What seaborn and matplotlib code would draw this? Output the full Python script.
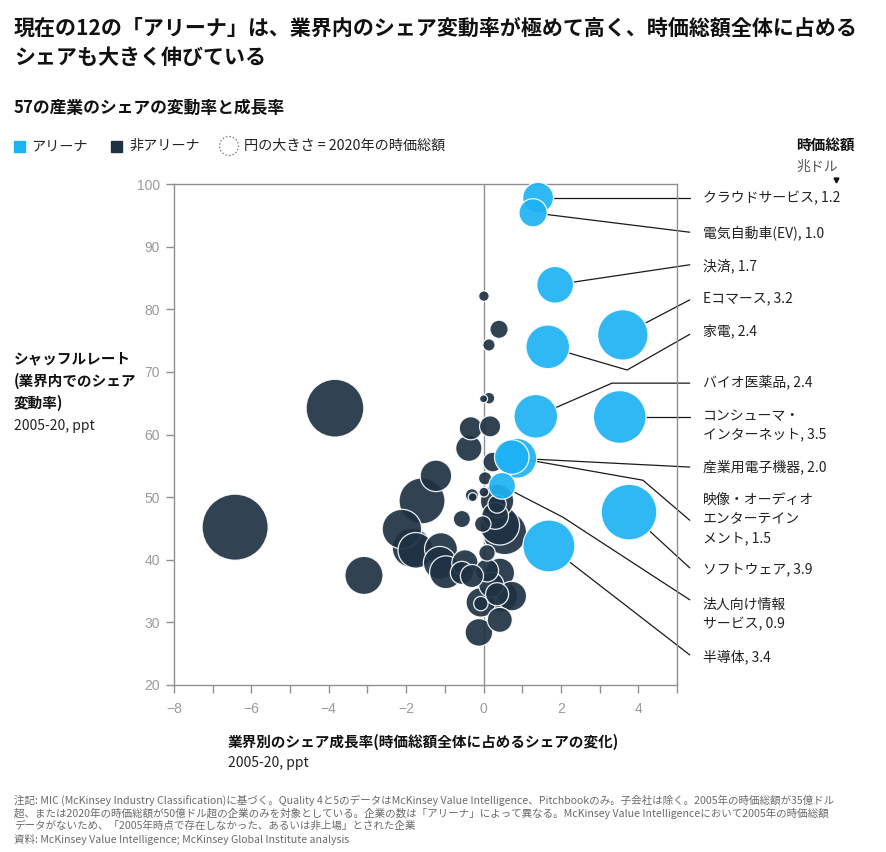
import numpy as np
import pandas as pd
import matplotlib
matplotlib.use("Agg")
import matplotlib.pyplot as plt
import matplotlib.patches as mpatches
from matplotlib.lines import Line2D
import seaborn as sns

# ---------------- data ----------------
arena_names = ["クラウドサービス, 1.2", "電気自動車(EV), 1.0", "決済, 1.7", "Eコマース, 3.2",
               "家電, 2.4", "バイオ医薬品, 2.4", "コンシューマ・\nインターネット, 3.5",
               "産業用電子機器, 2.0", "映像・オーディオ\nエンターテイン\nメント, 1.5",
               "ソフトウェア, 3.9", "法人向け情報\nサービス, 0.9", "半導体, 3.4"]
arena_x = [1.41, 1.28, 1.85, 3.60, 1.66, 1.35, 3.52, 0.86, 0.73, 3.76, 0.48, 1.69]
arena_y = [97.8, 95.4, 83.9, 75.9, 74.0, 62.9, 62.8, 56.2, 56.4, 47.6, 51.8, 42.2]
arena_cap = [1.2, 1.0, 1.7, 3.2, 2.4, 2.4, 3.5, 2.0, 1.5, 3.9, 0.9, 3.4]

other_x = [0.01, 0.40, 0.14, 0.14, 0.00, -3.84, -6.42, -0.33, 0.17, -0.38, 0.24, -1.23,
           -1.59, 0.04, -0.30, -0.28, 0.01, 0.35, 0.35, -0.56, -0.02, 0.42, 0.55, -2.11,
           -1.85, -1.75, -1.10, -1.13, -0.97, -0.48, -0.56, -0.30, -3.09, 0.09, 0.09, 0.42,
           0.35, 0.47, 0.73, -0.07, -0.07, 0.42, -0.12, 0.30, 0.20]
other_y = [82.1, 76.8, 74.3, 65.8, 65.7, 64.2, 45.2, 61.0, 61.3, 57.8, 55.6, 53.4,
           49.4, 53.0, 50.3, 50.0, 50.8, 49.4, 48.9, 46.5, 45.7, 45.5, 44.3, 44.9,
           41.9, 41.5, 41.7, 39.5, 38.0, 39.5, 37.9, 37.4, 37.5, 41.1, 38.3, 37.9,
           34.5, 34.2, 34.2, 33.2, 33.0, 30.4, 28.4, 47.0, 36.0]
other_cap = [0.14, 0.42, 0.19, 0.17, 0.08, 4.2, 5.5, 0.67, 0.56, 0.87, 0.49, 1.25,
             2.66, 0.22, 0.22, 0.10, 0.12, 1.40, 0.42, 0.37, 0.34, 1.96, 2.4, 1.96,
             1.96, 1.6, 1.36, 1.36, 1.36, 0.87, 0.67, 0.67, 1.83, 0.34, 0.67, 1.1,
             0.67, 1.25, 1.1, 1.1, 0.26, 0.79, 0.96, 0.9, 0.8]

x_ticks = [-8, -6, -4, -2, 0, 2, 4]
y_ticks = [20, 30, 40, 50, 60, 70, 80, 90, 100]

# leader-line waypoints (layout) and label anchors (layout)
lead_pts = [
    [(5.33, 97.8)],
    [(5.33, 92.3)],
    [(5.33, 87.1)],
    [(5.33, 81.5)],
    [(3.71, 70.3), (5.33, 76.0)],
    [(3.32, 68.2), (5.33, 68.2)],
    [(5.33, 62.8)],
    [(5.33, 54.8)],
    [(4.12, 52.7), (5.33, 46.3)],
    [(5.33, 38.7)],
    [(2.05, 46.8), (5.33, 33.6)],
    [(5.33, 24.8)],
]
label_y = [97.8, 92.2, 86.9, 81.8, 76.5, 68.4, 61.5, 54.8, 46.5, 38.4, 31.25, 24.5]

# ---------------- style ----------------
sns.set_theme(style="ticks")
plt.rcParams["font.family"] = ["Noto Sans CJK JP", "DejaVu Sans"]

W, H = 886, 852
fig = plt.figure(figsize=(W / 100, H / 100), dpi=100)
ax = fig.add_axes([174 / W, 1 - 685 / H, (677 - 174) / W, (685 - 184) / H])

DARK = "#1f3244"
BLUE = "#1db2f4"
GREY = "#8f8f8f"

df_o = pd.DataFrame({"x": other_x, "y": other_y, "cap": other_cap, "kind": "非アリーナ"})
df_o = df_o.sort_values("cap", ascending=False)
df_a = pd.DataFrame({"x": arena_x, "y": arena_y, "cap": arena_cap, "kind": "アリーナ"})
df = pd.concat([df_o, df_a], ignore_index=True)

K = 412.0
vmax = df["cap"].max()
sns.scatterplot(data=df, x="x", y="y", hue="kind", size="cap",
                palette={"アリーナ": BLUE, "非アリーナ": DARK},
                sizes=(0, K * vmax), size_norm=(0, vmax),
                edgecolor="white", linewidth=0.9, alpha=0.92,
                legend=False, ax=ax, zorder=3, clip_on=False)

ax.axvline(0, color=GREY, lw=1, zorder=1)
ax.set_xlim(-8, 5)
ax.set_ylim(20, 100)
ax.set_xticks(x_ticks)
ax.set_xticklabels([f"{t}".replace("-", "−") for t in x_ticks])
ax.set_xticks(np.arange(-7, 6, 2), minor=True)
ax.set_yticks(y_ticks)
ax.set_xlabel("")
ax.set_ylabel("")
for s in ax.spines.values():
    s.set_visible(True)
    s.set_color(GREY)
    s.set_linewidth(1)
ax.tick_params(axis="both", which="both", direction="out", length=6, width=1,
               color=GREY, labelcolor="#9a9a9a", labelsize=10, pad=4)
ax.tick_params(axis="x", pad=6)
for lab in ax.get_xticklabels() + ax.get_yticklabels():
    lab.set_fontfamily(["Liberation Sans", "DejaVu Sans"])

# ---------------- leader lines + labels ----------------
fig.canvas.draw()
tr = ax.transData
inv = tr.inverted()
for i in range(len(arena_names)):
    cx, cy = tr.transform((arena_x[i], arena_y[i]))
    r = np.sqrt(K * arena_cap[i]) / 2 * 100 / 72
    nx, ny = tr.transform(lead_pts[i][0])
    d = np.array([nx - cx, ny - cy])
    d = d / np.linalg.norm(d)
    sx, sy = inv.transform((cx + d[0] * r, cy + d[1] * r))
    xs = [sx] + [p[0] for p in lead_pts[i]]
    ys = [sy] + [p[1] for p in lead_pts[i]]
    ax.plot(xs, ys, color="#1a1a1a", lw=0.9, clip_on=False, zorder=2)
    ax.text(5.67, label_y[i], arena_names[i], fontsize=10, color="#222222",
            va="center", ha="left", linespacing=1.45, clip_on=False)

# ---------------- texts ----------------
def ft(px, py, s, **kw):
    fig.text(px / W, 1 - py / H, s, **kw)

ft(14, 28, "現在の12の「アリーナ」は、業界内のシェア変動率が極めて高く、時価総額全体に占める",
   fontsize=15.1, weight="bold", color="#111111", va="center")
ft(14, 58, "シェアも大きく伸びている", fontsize=15.1, weight="bold", color="#111111", va="center")
ft(14, 108, "57の産業のシェアの変動率と成長率", fontsize=12.1, weight="bold",
   color="#111111", va="center")

# legend
fig.add_artist(mpatches.Rectangle((14 / W, 1 - 152 / H), 11 / W, 11 / H,
                                  transform=fig.transFigure, color=BLUE))
ft(31, 146, "アリーナ", fontsize=10.2, color="#222222", va="center")
fig.add_artist(mpatches.Rectangle((111 / W, 1 - 152 / H), 11 / W, 11 / H,
                                  transform=fig.transFigure, color=DARK))
ft(129, 146, "非アリーナ", fontsize=10.2, color="#222222", va="center")
fig.add_artist(mpatches.Ellipse((229 / W, 1 - 146 / H), 19 / W, 19 / H,
                                transform=fig.transFigure, fill=False,
                                edgecolor="#777777", lw=0.9, linestyle=(0, (1.2, 1.6))))
ft(244, 146, "円の大きさ = 2020年の時価総額", fontsize=10.2, color="#222222", va="center")

ft(796, 145, "時価総額", fontsize=10.5, weight="bold", color="#111111", va="center")
ft(796, 167, "兆ドル", fontsize=10, color="#555555", va="center")
fig.add_artist(Line2D([836 / W], [1 - 180 / H], marker="v", markersize=3.5,
                      color="#111111", linestyle="none", transform=fig.transFigure))

# y label
ft(14, 358, "シャッフルレート", fontsize=10.5, weight="bold", color="#111111", va="center")
ft(14, 381, "(業界内でのシェア", fontsize=10.5, weight="bold", color="#111111", va="center")
ft(14, 403, "変動率)", fontsize=10.5, weight="bold", color="#111111", va="center")
ft(14, 426, "2005-20, ppt", fontsize=10, color="#222222", va="center")

# x label
ft(228, 742, "業界別のシェア成長率(時価総額全体に占めるシェアの変化)", fontsize=10.5,
   weight="bold", color="#111111", va="center")
ft(228, 763, "2005-20, ppt", fontsize=10, color="#222222", va="center")

# footnote
notes = [
    "注記: MIC (McKinsey Industry Classification)に基づく。Quality 4と5のデータはMcKinsey Value Intelligence、Pitchbookのみ。子会社は除く。2005年の時価総額が35億ドル",
    "超、または2020年の時価総額が50億ドル超の企業のみを対象としている。企業の数は「アリーナ」によって異なる。McKinsey Value Intelligenceにおいて2005年の時価総額",
    "データがないため、「2005年時点で存在しなかった、あるいは非上場」とされた企業",
    "資料: McKinsey Value Intelligence; McKinsey Global Institute analysis",
]
for k, line in enumerate(notes):
    ft(14, 800 + 13 * k, line, fontsize=7.6, color="#6a6a6a", va="center")

fig.savefig("out.png", dpi=100)
